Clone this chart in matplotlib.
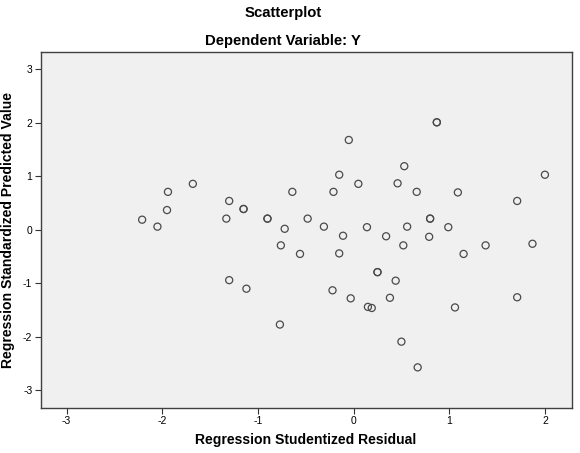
import matplotlib
matplotlib.use("Agg")
import matplotlib.pyplot as plt

plt.rcParams['font.family'] = ['Liberation Sans', 'DejaVu Sans']
plt.rcParams['axes.unicode_minus'] = False

# studentized residuals (x) and standardized predicted values (y)
resid = [-1.68, -1.94, -1.30, -1.15, -1.95, -0.64, -2.21, -1.33, -0.90, -2.05,
         -0.72, -0.48, 0.87, -0.05, 0.53, -0.15, 2.00, 0.05, 0.46, -0.21,
         0.66, 1.09, 1.71, 0.80, -0.31, 0.14, 0.56, 0.99, -0.11, 0.34,
         0.79, -0.76, -0.56, -1.30, -1.12, -0.77, 0.52, 1.38, 1.87, -0.15,
         1.15, 0.25, 0.44, -0.22, -0.03, 0.38, 0.15, 0.19, 1.06, 1.71,
         0.50, 0.67,
         -1.15, -0.90, 0.87, 0.80, 0.25]
pred = [0.86, 0.71, 0.54, 0.39, 0.37, 0.71, 0.19, 0.21, 0.21, 0.06,
        0.02, 0.21, 2.01, 1.68, 1.19, 1.03, 1.03, 0.86, 0.87, 0.71,
        0.71, 0.70, 0.54, 0.21, 0.06, 0.05, 0.06, 0.05, -0.11, -0.12,
        -0.13, -0.29, -0.45, -0.94, -1.10, -1.77, -0.29, -0.29, -0.26, -0.44,
        -0.45, -0.79, -0.95, -1.13, -1.28, -1.27, -1.44, -1.46, -1.45, -1.26,
        -2.09, -2.57,
        0.39, 0.21, 2.01, 0.21, -0.79]

xticks = [-3, -2, -1, 0, 1, 2]
yticks = [-3, -2, -1, 0, 1, 2, 3]

W, H = 580, 453
fig = plt.figure(figsize=(W / 100, H / 100), dpi=100)
ax = fig.add_axes([0.0702, 0.0993, 0.9155, 0.7866])
ax.set_facecolor('#f0f0f0')

ax.scatter(resid, pred, s=26, facecolors='none', edgecolors='#4a4a4a', linewidths=0.9)

ax.set_xlim(-3.27, 2.28)
ax.set_ylim(-3.33, 3.33)
ax.set_xticks(xticks)
ax.set_yticks(yticks)
ax.tick_params(labelsize=7.5, length=4, width=0.8, color='#333333', pad=2)

for s in ax.spines.values():
    s.set_color('#404040')
    s.set_linewidth(1.0)

bold = dict(ha='center', va='center', fontweight='bold')
fig.text(306 / W, 1 - 440 / H, 'Regression Studentized Residual', fontsize=10.1, **bold)
fig.text(8 / W, 1 - 230 / H, 'Regression Standardized Predicted Value', fontsize=10.1,
         rotation=90, **bold)
fig.text(283 / W, 1 - 13 / H, 'Scatterplot', fontsize=10.7, **bold)
fig.text(283 / W, 1 - 41 / H, 'Dependent Variable: Y', fontsize=10.7, **bold)

fig.savefig('out.png', dpi=100)
